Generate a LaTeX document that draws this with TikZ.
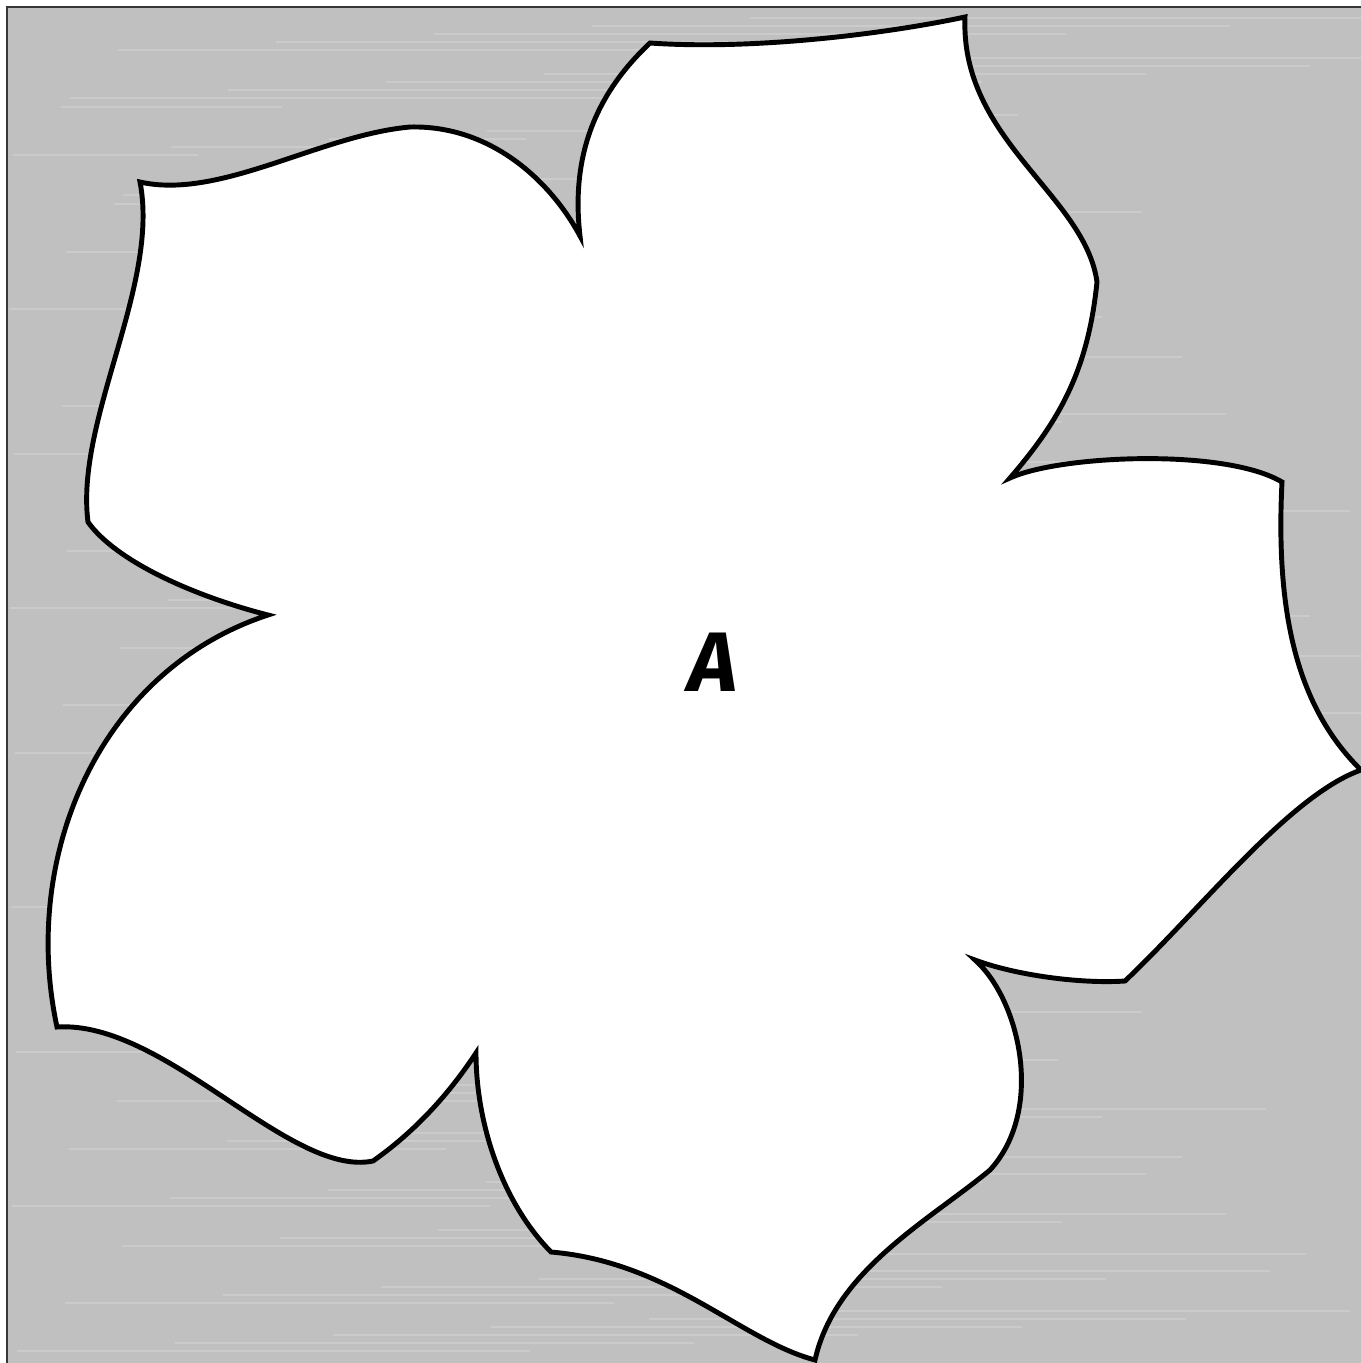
\documentclass[tikz,border=0pt]{standalone}
\usepackage{fontspec}
\usepackage{tikz}
\newfontfamily\handfont{Fira Sans}
\definecolor{panelgray}{RGB}{192,192,192}
\definecolor{edgegray}{RGB}{55,55,55}
\tikzset{
  petal/.style={draw=black,fill=white,line width=1.4pt,line join=miter},
  streak/.style={white,opacity=0.18,line width=0.3pt},
  label/.style={font=\handfont\bfseries\itshape\fontsize{24}{24}\selectfont}
}

\begin{document}
\begin{tikzpicture}[x=0.01cm,y=-0.01cm]
  \useasboundingbox (0,0) rectangle (1361,1363);
  % brushed backdrop
  \fill[panelgray] (7,7) rectangle (1361,1363);
  \foreach \k in {1,...,160}{
    \pgfmathsetmacro{\yy}{10+mod(\k*97,1350)}
    \pgfmathsetmacro{\xa}{8+mod(\k*53,900)}
    \pgfmathsetmacro{\ll}{150+mod(\k*71,500)}
    \draw[streak] (\xa,\yy) -- (\xa+\ll,\yy);
  }
  \draw[edgegray,line width=0.6pt] (7,1363) -- (7,7) -- (1361,7);
  % seven-petal outline, tip to tip
  \filldraw[petal] (650,43)
    .. controls (750,50) and (880,35) .. (965,17)
    .. controls (960,140) and (1085,195) .. (1097,282)
    .. controls (1088,370) and (1060,420) .. (1010,478)
    .. controls (1060,455) and (1225,448) .. (1282,482)
    .. controls (1275,620) and (1300,710) .. (1361,770)
    .. controls (1290,795) and (1200,910) .. (1125,981)
    .. controls (1080,984) and (1015,975) .. (975,960)
    .. controls (1020,1000) and (1045,1110) .. (990,1170)
    .. controls (930,1220) and (835,1270) .. (815,1360)
    .. controls (740,1340) and (670,1262) .. (551,1252)
    .. controls (500,1200) and (476,1120) .. (476,1053)
    .. controls (445,1100) and (410,1135) .. (373,1161)
    .. controls (290,1178) and (165,1020) .. (57,1027)
    .. controls (20,855) and (100,670) .. (268,615)
    .. controls (190,595) and (115,560) .. (88,522)
    .. controls (75,420) and (160,285) .. (140,182)
    .. controls (220,200) and (320,135) .. (410,127)
    .. controls (490,125) and (550,180) .. (580,236)
    .. controls (570,150) and (600,90) .. (650,43)
    -- cycle;
  % centre mark
  \node[label] (mark) at (713,662) {A};
\end{tikzpicture}
\end{document}
